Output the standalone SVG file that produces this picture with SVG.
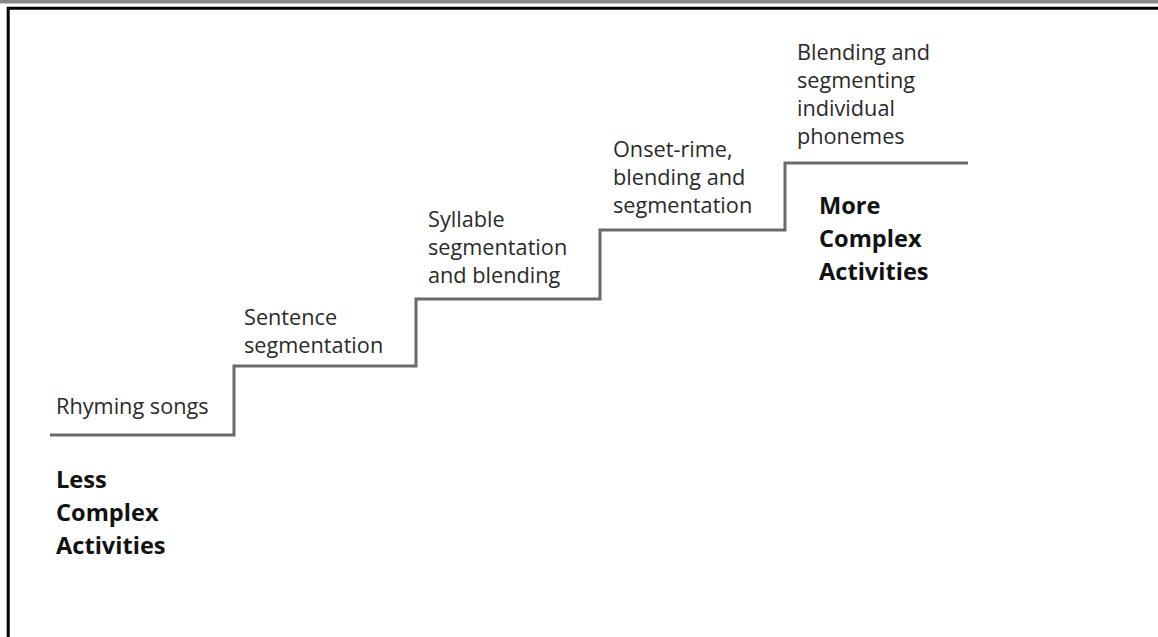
<svg xmlns="http://www.w3.org/2000/svg" width="1158" height="637" viewBox="0 0 1158 637">
<style>
.t{font-family:"Open Sans","Noto Sans","Liberation Sans",sans-serif;font-size:21.7px;fill:#2a2a2a}
.b{font-family:"Open Sans","Noto Sans","Liberation Sans",sans-serif;font-size:23.6px;font-weight:bold;fill:#111}
.stair{fill:none;stroke:#6a6a6a;stroke-width:3;stroke-linejoin:miter}
</style>
<rect x="0" y="0" width="1158" height="637" fill="#fff"/>
<rect x="0" y="0" width="1158" height="3.5" fill="#888"/>
<path d="M8.2,637 V8.2 H1158" fill="none" stroke="#000" stroke-width="3"/>
<g id="connectors">
<path class="stair" d="M50,435 H234 V366 H416 V299 H600 V230 H785 V163 H968"/>
</g>
<g id="step1"><text class="t" x="56" y="414">Rhyming songs</text></g>
<g id="less"><text class="b" x="56" y="488">Less</text><text class="b" x="56" y="521">Complex</text><text class="b" x="56" y="554">Activities</text></g>
<g id="step2"><text class="t" x="244" y="325">Sentence</text><text class="t" x="244" y="353">segmentation</text></g>
<g id="step3"><text class="t" x="428" y="227">Syllable</text><text class="t" x="428" y="255">segmentation</text><text class="t" x="428" y="283">and blending</text></g>
<g id="step4"><text class="t" x="613" y="157">Onset-rime,</text><text class="t" x="613" y="185">blending and</text><text class="t" x="613" y="213">segmentation</text></g>
<g id="step5"><text class="t" x="797" y="60">Blending and</text><text class="t" x="797" y="88">segmenting</text><text class="t" x="797" y="116">individual</text><text class="t" x="797" y="144">phonemes</text></g>
<g id="more"><text class="b" x="819" y="214">More</text><text class="b" x="819" y="247">Complex</text><text class="b" x="819" y="280">Activities</text></g>
</svg>
